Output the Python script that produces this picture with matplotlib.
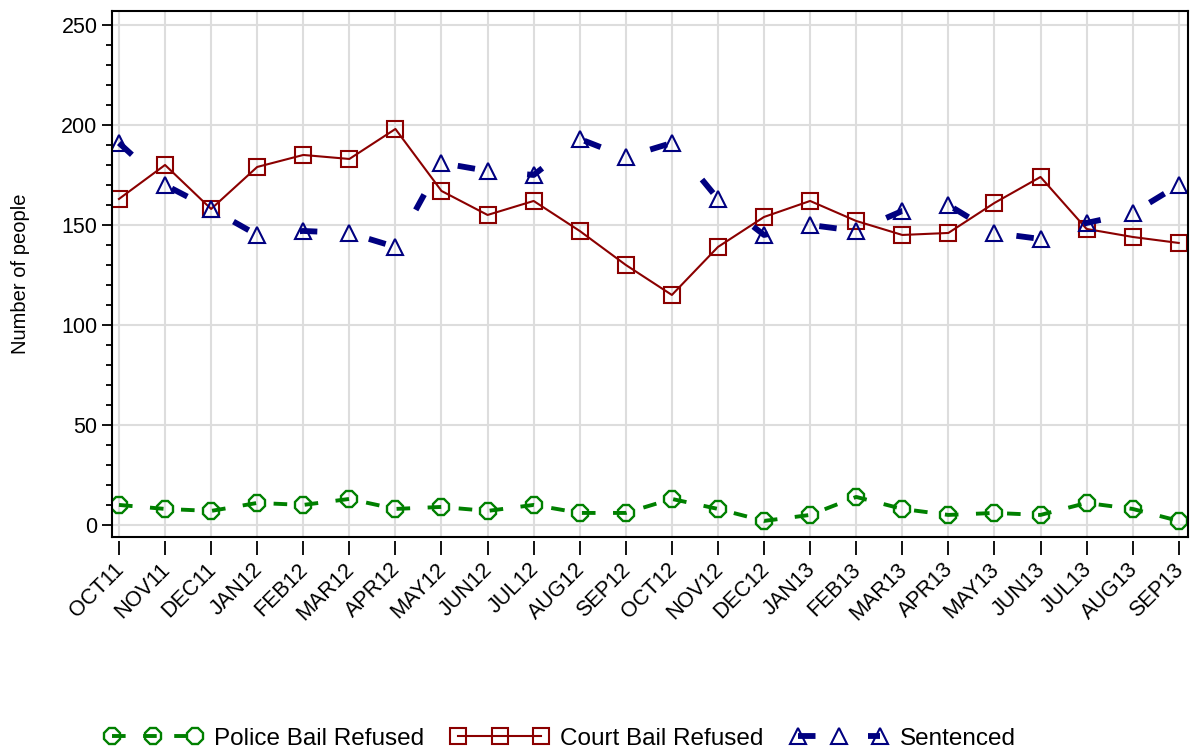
import matplotlib
matplotlib.use('Agg')
import matplotlib.pyplot as plt
import numpy as np
from matplotlib.ticker import MultipleLocator

plt.rcParams['font.family'] = ['Liberation Sans', 'DejaVu Sans']

months = ['OCT11', 'NOV11', 'DEC11', 'JAN12', 'FEB12', 'MAR12', 'APR12', 'MAY12',
          'JUN12', 'JUL12', 'AUG12', 'SEP12', 'OCT12', 'NOV12', 'DEC12', 'JAN13',
          'FEB13', 'MAR13', 'APR13', 'MAY13', 'JUN13', 'JUL13', 'AUG13', 'SEP13']
police = [10, 8, 7, 11, 10, 13, 8, 9, 7, 10, 6, 6, 13, 8, 2, 5, 14, 8, 5, 6, 5, 11, 8, 2]
court = [163, 180, 158, 179, 185, 183, 198, 167, 155, 162, 147, 130, 115, 139, 154, 162,
         152, 145, 146, 161, 174, 148, 144, 141]
sentenced = [191, 170, 158, 145, 147, 146, 139, 181, 177, 175, 193, 184, 191, 163, 145, 150,
             147, 157, 160, 146, 143, 151, 156, 170]

x = np.arange(len(months))

fig = plt.figure(figsize=(11.92, 7.52), dpi=100)
ax = fig.add_axes([0.094, 0.286, 0.9026, 0.6994])

ax.plot(x, police, color='#008000', lw=2.8, dashes=(3.5, 4.5),
        marker='8', ms=12.5, mfc='none', mec='#008000', mew=1.7, label='Police Bail Refused')
ax.plot(x, court, color='#8B0000', lw=1.5, marker='s', ms=12, mfc='none',
        mec='#8B0000', mew=1.5, label='Court Bail Refused')
ax.plot(x, sentenced, color='#000080', lw=4.2, dashes=(3, 9), marker='^', ms=12,
        mfc='none', mec='#000080', mew=1.5, label='Sentenced')

ax.set_xlim(-0.15, 23.2)
ax.set_ylim(-6, 257)
ax.yaxis.set_major_locator(MultipleLocator(50))
ax.yaxis.set_minor_locator(MultipleLocator(10))
ax.set_xticks(x)
ax.set_xticklabels([])
ax.tick_params(axis='x', length=0)
ax.tick_params(axis='y', which='major', length=7, width=1.3, labelsize=15.5)
ax.tick_params(axis='y', which='minor', length=4, width=1.3)
ax.grid(True, which='major', color='#dddddd', lw=1.5)
ax.set_axisbelow(True)
for s in ax.spines.values():
    s.set_linewidth(1.5)
ax.set_ylabel('Number of people', fontsize=14.5)
ax.yaxis.set_label_coords(-0.076, 0.5)

sec = ax.secondary_xaxis(-0.008)
sec.set_xticks(x)
sec.set_xticklabels(months, rotation=45, ha='right', va='center_baseline',
                    rotation_mode='anchor', fontsize=15.5)
sec.tick_params(axis='x', length=10, width=1.3, pad=7)
sec.spines['bottom'].set_visible(False)

fig.legend(loc='lower center', bbox_to_anchor=(0.47, -0.026), ncol=3, frameon=False,
           numpoints=3, handlelength=4.0, columnspacing=1.1, handletextpad=0.5,
           fontsize=17.5)

fig.savefig('out.png', dpi=100)
